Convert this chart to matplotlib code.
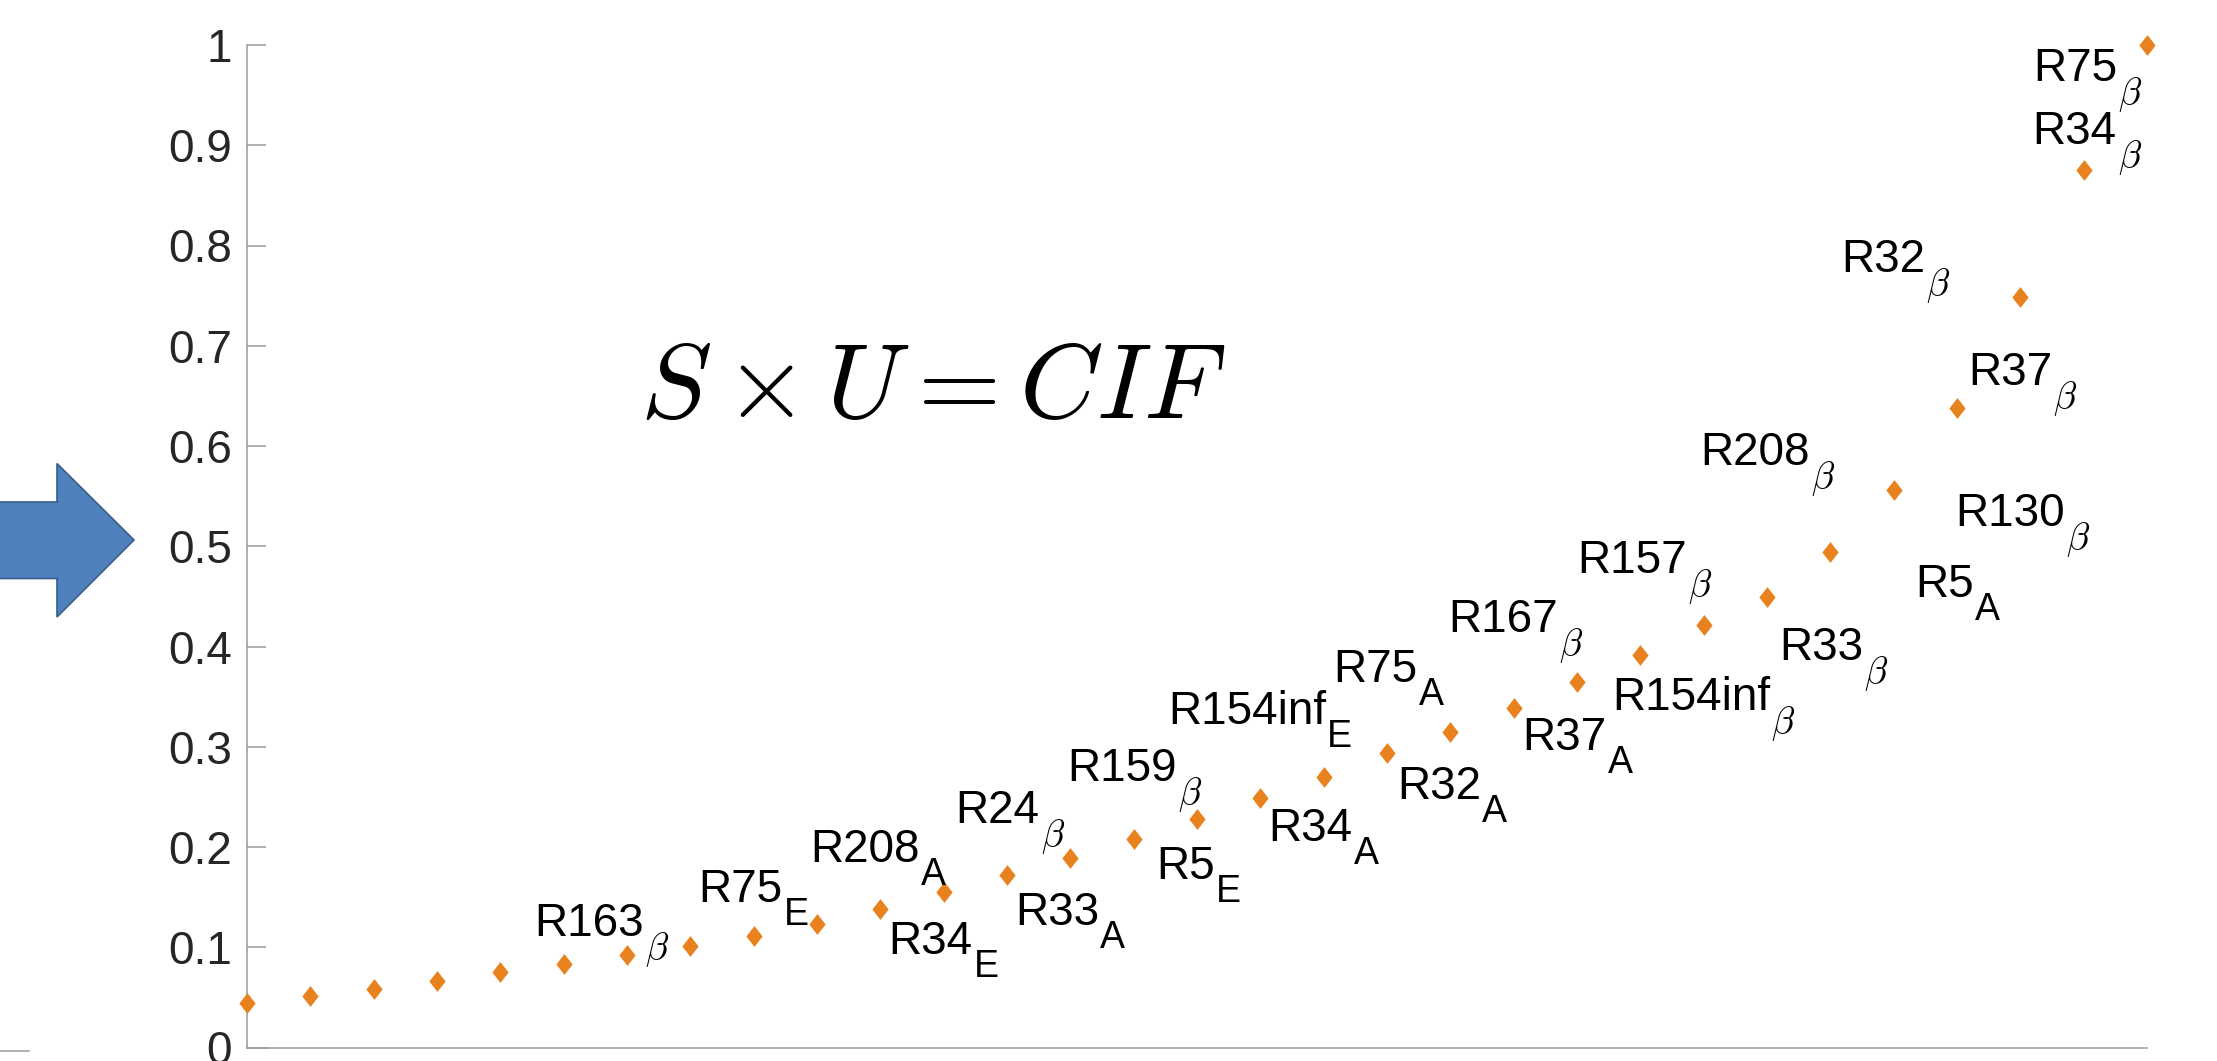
import matplotlib
matplotlib.use("Agg")
import matplotlib.pyplot as plt
from matplotlib.patches import Polygon
from matplotlib.lines import Line2D

# ---------------- data ----------------
rank = list(range(1, 32))
cif = [0.044, 0.051, 0.058, 0.066, 0.075, 0.083, 0.092, 0.101, 0.111, 0.123,
       0.138, 0.155, 0.172, 0.189, 0.208, 0.228, 0.249, 0.270, 0.294, 0.315,
       0.339, 0.365, 0.392, 0.421, 0.449, 0.494, 0.556, 0.638, 0.749, 0.875, 1.0]

# labelled points (index into rank, 1-based), base name and subscript
label_rank = list(range(8, 32))
label_base = ["R163", "R75", "R208", "R34", "R24", "R33", "R159", "R5",
              "R154inf", "R34", "R75", "R32", "R167", "R37", "R157", "R154inf",
              "R208", "R33", "R130", "R5", "R37", "R32", "R34", "R75"]
label_sub = ["β", "E", "A", "E", "β", "A", "β", "E",
             "E", "A", "A", "A", "β", "A", "β", "β",
             "β", "β", "β", "A", "β", "β", "β", "β"]

yticks = [0, 0.1, 0.2, 0.3, 0.4, 0.5, 0.6, 0.7, 0.8, 0.9, 1]
ytick_labels = ["0", "0.1", "0.2", "0.3", "0.4", "0.5", "0.6", "0.7", "0.8", "0.9", "1"]
equation = r"$S\times U = CIF$"

# label offsets (pixels, from point to left/baseline of label) -- layout only
label_off = [(-156, 10), (-55, 34), (-7, 62), (8, -45), (12, 69), (8, -50),
             (-3, 77), (23, -40), (-29, 95), (8, -43), (10, 95), (10, -46),
             (-2, 100), (9, -42), (0, 109), (-28, -55), (-3, 160), (12, -63),
             (125, 26), (22, -107), (11, 23), (-179, 25), (-51, 26), (-114, -36)]

# ---------------- style ----------------
plt.rcParams["font.family"] = ["Liberation Sans", "DejaVu Sans"]
plt.rcParams["mathtext.fontset"] = "cm"

W, H = 2217, 1061
fig = plt.figure(figsize=(W / 100, H / 100), dpi=100)
ax = fig.add_axes([247 / W, 1 - 1047.5 / H, 1900 / W, 1002.5 / H])

orange = "#E8821E"
grey = "#9a9a9a"
diamond = [(-0.78, 0), (0, 1), (0.78, 0), (0, -1), (-0.78, 0)]
ax.plot(rank, cif, linestyle="none", marker=diamond, markersize=15,
        color=orange, markeredgewidth=0, clip_on=False, zorder=3)

ax.set_xlim(1, 31)
ax.set_ylim(0, 1)
ax.set_xticks([])
ax.set_yticks(yticks)
ax.set_yticklabels(ytick_labels)
ax.tick_params(axis="y", direction="in", length=13.5, width=1.1, color=grey,
               labelsize=33, pad=10.8, labelcolor="#262626")
for s in ["top", "right"]:
    ax.spines[s].set_visible(False)
for s in ["left", "bottom"]:
    ax.spines[s].set_color(grey)
    ax.spines[s].set_linewidth(1.1)

# point labels with deep MATLAB-like subscripts
for r, base, sub, (dx, dy) in zip(label_rank, label_base, label_sub, label_off):
    x, y = rank[r - 1], cif[r - 1]
    main = ax.annotate(base, xy=(x, y), xytext=(dx, dy), textcoords="offset pixels",
                       ha="left", va="baseline", fontsize=33, color="black",
                       annotation_clip=False)
    s = r"$\beta$" if sub == "β" else sub
    ax.annotate(s, xy=(1.0, y), xycoords=(main, "data"),
                xytext=(1, dy - 23), textcoords="offset pixels",
                ha="left", va="baseline", fontsize=27, color="black",
                annotation_clip=False)

ax.text(0.361, 0.628, equation, transform=ax.transAxes, fontsize=77,
        ha="center", va="baseline")

# blue arrow at left (decorative)
def fp(px, py):
    return (px / W, 1 - py / H)

arrow = Polygon([fp(-5, 502), fp(57, 502), fp(57, 463.5), fp(134, 540),
                 fp(57, 617), fp(57, 578.5), fp(-5, 578.5)],
                closed=True, transform=fig.transFigure, facecolor="#4F81BD",
                edgecolor="#385D8A", linewidth=1.2)
fig.patches.append(arrow)
fig.lines.append(Line2D([0, 29 / W], [1 - 1051 / H] * 2, transform=fig.transFigure,
                        color=grey, linewidth=1.1))

fig.savefig("out.png", dpi=100, facecolor="white")
